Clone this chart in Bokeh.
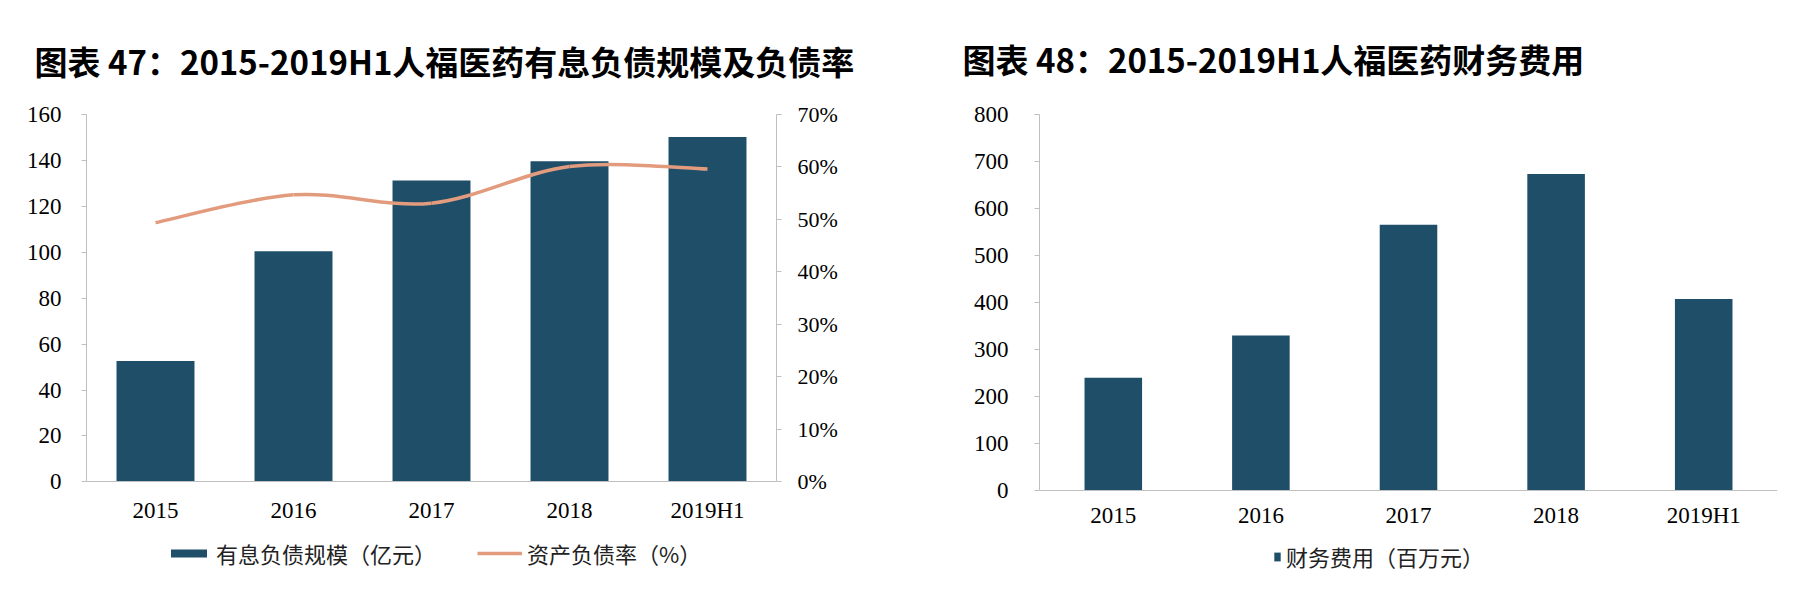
from bokeh.plotting import figure
from bokeh.layouts import row
from bokeh.models import (FactorRange, Range1d, LinearAxis, FixedTicker,
                          PrintfTickFormatter, Legend, LegendItem)
from bokeh.core.properties import value
from bokeh.embed import file_html
from bokeh.resources import INLINE

# data
years = ["2015", "2016", "2017", "2018", "2019H1"]
debt = [52.6, 100.5, 131.3, 139.6, 150.2]        # 有息负债规模（亿元）
ratio = [49.4, 54.7, 53.1, 60.1, 59.6]           # 资产负债率（%）
fin_cost = [239, 329, 565, 673, 407]             # 财务费用（百万元）

left_ticks = [0, 20, 40, 60, 80, 100, 120, 140, 160]
pct_ticks = [0, 10, 20, 30, 40, 50, 60, 70]
right_ticks = [0, 100, 200, 300, 400, 500, 600, 700, 800]

BAR = "#1F4E69"
LINE = "#E39B7E"
AXIS = "#BFBFBF"
CJK = "Noto Sans CJK SC"
SERIF = "Liberation Serif"
W, H = 890, 580

# frame layout in figure pixels: frame top, y of value 0, frame bottom.
# the frame runs down past the x axis so the legend under it is not clipped
FT1, Z1, FB1 = 107, 480, H - 6
FT2, Z2, FB2 = 111, 489, H - 6


def below_zero(top_val, ft, z, fb, px):
    # data value that sits px pixels under the zero line
    return -px * top_val / (z - ft)


def style_axis(ax, size="23px"):
    ax.axis_line_color = AXIS
    ax.major_tick_line_color = AXIS
    ax.minor_tick_line_color = None
    ax.major_tick_in = 0
    ax.major_tick_out = 5
    ax.major_label_text_font = SERIF
    ax.major_label_text_font_size = size
    ax.major_label_text_color = "#000000"


def style_xaxis(ax):
    ax.axis_line_color = AXIS
    ax.major_tick_line_color = None
    ax.minor_tick_line_color = None
    ax.major_tick_in = 0
    ax.major_tick_out = 0
    ax.major_label_standoff = 0
    ax.major_label_text_font_size = "1px"
    ax.major_label_text_alpha = 0
    ax.fixed_location = 0


def style_title(p, offset, standoff):
    p.title.text_font = CJK
    p.title.text_font_style = "bold"
    p.title.text_font_size = "33px"
    p.title.text_color = "#000000"
    p.title.align = "left"
    p.title.offset = offset
    p.title.standoff = standoff


def legend(items, loc, gw, gh, spacing=0):
    return Legend(items=items, orientation="horizontal", location=loc,
                  glyph_width=gw, glyph_height=gh, label_standoff=5, spacing=spacing,
                  label_text_font=CJK, label_text_font_size="22px", label_text_color="#222222",
                  border_line_color=None, background_fill_alpha=0, padding=0, margin=0)


# ---- chart 47
p1 = figure(x_range=FactorRange(*years),
            y_range=Range1d(below_zero(160, FT1, Z1, FB1, FB1 - Z1), 160),
            width=W, height=H, output_backend="svg", toolbar_location=None,
            title="图表 47：2015-2019H1人福医药有息负债规模及负债率",
            min_border_left=86, min_border_right=W - 776, min_border_top=FT1, min_border_bottom=H - FB1)
p1.x_range.range_padding = 0
style_title(p1, -52, 60)
p1.extra_y_ranges = {"pct": Range1d(below_zero(70, FT1, Z1, FB1, FB1 - Z1), 70)}
p1.grid.visible = False
p1.outline_line_color = None

bars1 = p1.vbar(x=years, top=debt, width=0.565, fill_color=BAR, line_color=None)

# smoothed line like the spreadsheet one, drawn as bezier segments through the points
xs = [i + 0.5 for i in range(len(years))]
n = len(ratio)
x0, y0, x1, y1, cx0, cy0, cx1, cy1 = [], [], [], [], [], [], [], []
for i in range(n - 1):
    a = max(i - 1, 0)
    b = min(i + 2, n - 1)
    x0.append(xs[i]); y0.append(ratio[i])
    x1.append(xs[i + 1]); y1.append(ratio[i + 1])
    cx0.append(xs[i] + (xs[i + 1] - xs[a]) / 6)
    cy0.append(ratio[i] + (ratio[i + 1] - ratio[a]) / 6)
    cx1.append(xs[i + 1] - (xs[b] - xs[i]) / 6)
    cy1.append(ratio[i + 1] - (ratio[b] - ratio[i]) / 6)
p1.bezier(x0=x0, y0=y0, x1=x1, y1=y1, cx0=cx0, cy0=cy0, cx1=cx1, cy1=cy1,
          line_color=LINE, line_width=3.5, y_range_name="pct")
# one-point line: draws nothing, gives the legend its swatch
curve_key = p1.line(x=years[:1], y=ratio[:1], line_color=LINE, line_width=3.5, y_range_name="pct")

style_axis(p1.yaxis[0])
p1.yaxis[0].ticker = FixedTicker(ticks=left_ticks)
p1.yaxis[0].bounds = (0, 160)
p1.yaxis[0].major_label_standoff = 20
style_xaxis(p1.xaxis[0])

pax = LinearAxis(y_range_name="pct", ticker=FixedTicker(ticks=pct_ticks), bounds=(0, 70),
                 formatter=PrintfTickFormatter(format="%d%%"))
style_axis(pax, "22px")
pax.major_label_standoff = 16
p1.add_layout(pax, "right")

# category labels under the zero line
p1.text(x=years, y=[below_zero(160, FT1, Z1, FB1, 29)] * len(years), text=years,
        text_font=value(SERIF), text_font_size="23px", text_color="#000000",
        text_align="center", text_baseline="middle")

leg1 = legend([LegendItem(label="有息负债规模（亿元）", renderers=[bars1]),
               LegendItem(label="资产负债率（%）", renderers=[curve_key])],
              (80, 5), 45, 10, spacing=41)
p1.add_layout(leg1)

# ---- chart 48 (figure starts at page x 898)
p2 = figure(x_range=FactorRange(*years),
            y_range=Range1d(below_zero(800, FT2, Z2, FB2, FB2 - Z2), 800),
            width=W, height=H, output_backend="svg", toolbar_location=None,
            title="图表 48：2015-2019H1人福医药财务费用",
            min_border_left=149, min_border_right=3, min_border_top=FT2, min_border_bottom=H - FB2)
p2.x_range.range_padding = 0
style_title(p2, -77, 64)
p2.grid.visible = False
p2.outline_line_color = None

bars2 = p2.vbar(x=years, top=fin_cost, width=0.39, fill_color=BAR, line_color=None)

style_axis(p2.yaxis[0])
p2.yaxis[0].ticker = FixedTicker(ticks=right_ticks)
p2.yaxis[0].bounds = (0, 800)
p2.yaxis[0].major_label_standoff = 26
style_xaxis(p2.xaxis[0])

p2.text(x=years, y=[below_zero(800, FT2, Z2, FB2, 26)] * len(years), text=years,
        text_font=value(SERIF), text_font_size="23px", text_color="#000000",
        text_align="center", text_baseline="middle")

leg2 = legend([LegendItem(label="财务费用（百万元）", renderers=[bars2])], (234, 2), 8, 11)
p2.add_layout(leg2)

layout = row(p1, p2)
open("out.html", "w").write(file_html(layout, INLINE))
